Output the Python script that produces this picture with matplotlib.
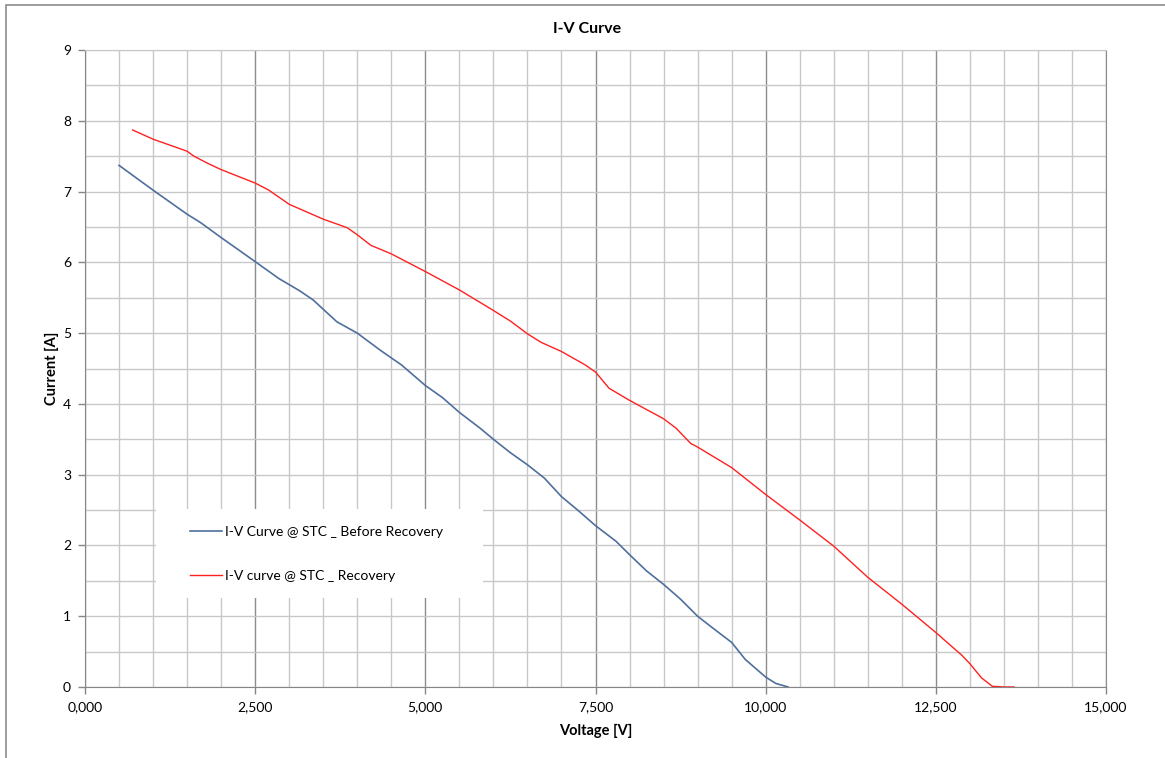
import matplotlib
matplotlib.use("Agg")
import matplotlib.pyplot as plt
from matplotlib.ticker import MultipleLocator, FuncFormatter
from matplotlib.patches import Rectangle

plt.rcParams['font.family'] = ['Lato', 'DejaVu Sans']

# I-V curve before recovery (voltage in V, current in A)
volt_before = [0.5, 1.0, 1.5, 1.7, 2.0, 2.5, 2.85, 3.15, 3.35, 3.7, 4.0, 4.35, 4.65, 5.0,
               5.25, 5.5, 5.8, 6.0, 6.25, 6.5, 6.75, 7.0, 7.25, 7.5, 7.8, 8.0, 8.25, 8.5,
               8.75, 9.0, 9.2, 9.5, 9.7, 10.0, 10.15, 10.33]
curr_before = [7.37, 7.02, 6.68, 6.56, 6.35, 6.01, 5.77, 5.6, 5.47, 5.16, 5.0, 4.75, 4.55, 4.26,
               4.09, 3.88, 3.66, 3.5, 3.31, 3.14, 2.95, 2.69, 2.49, 2.28, 2.06, 1.87, 1.64, 1.45,
               1.24, 1.0, 0.85, 0.63, 0.39, 0.14, 0.05, 0.0]

# I-V curve after recovery
volt_recov = [0.7, 1.0, 1.5, 1.6, 1.8, 2.0, 2.5, 2.7, 3.0, 3.5, 3.85, 4.0, 4.2, 4.5, 5.0, 5.5,
              6.0, 6.25, 6.5, 6.7, 7.0, 7.35, 7.5, 7.7, 8.0, 8.5, 8.68, 8.9, 9.0, 9.5, 10.0,
              10.5, 11.0, 11.5, 12.0, 12.5, 12.88, 13.0, 13.17, 13.33, 13.5, 13.65]
curr_recov = [7.87, 7.74, 7.57, 7.5, 7.4, 7.31, 7.12, 7.02, 6.82, 6.61, 6.49, 6.39, 6.24, 6.12,
              5.87, 5.61, 5.32, 5.17, 4.99, 4.87, 4.74, 4.55, 4.45, 4.22, 4.05, 3.79, 3.66, 3.44,
              3.39, 3.1, 2.72, 2.36, 1.99, 1.55, 1.17, 0.77, 0.45, 0.33, 0.13, 0.01, 0.0, 0.0]

labels = ['I-V Curve @ STC _ Before Recovery', 'I-V curve @ STC _ Recovery']

fig = plt.figure(figsize=(11.65, 7.58), dpi=100)
ax = fig.add_axes([85 / 1165, 1 - 687 / 758, 1021 / 1165, 637 / 758])

# outer chart border (only left/top visible in the original)
fig.patches.append(Rectangle((6 / 1165, -0.1), 2, 0.994 + 0.1, transform=fig.transFigure,
                             fill=False, edgecolor='#8c8c8c', lw=1.2, clip_on=False))

ax.plot(volt_before, curr_before, color='#4f6f9c', lw=1.2, label=labels[0], zorder=4)
ax.plot(volt_recov, curr_recov, color='#ff2020', lw=1.0, label=labels[1], zorder=4)

ax.set_xlim(0, 15)
ax.set_ylim(0, 9)
ax.xaxis.set_major_locator(MultipleLocator(2.5))
ax.xaxis.set_minor_locator(MultipleLocator(0.5))
ax.yaxis.set_major_locator(MultipleLocator(1))
ax.yaxis.set_minor_locator(MultipleLocator(0.5))
ax.xaxis.set_major_formatter(FuncFormatter(lambda v, p: f"{v:.3f}".replace('.', ',')))

ax.grid(which='major', axis='x', color='#8c8c8c', lw=1.0)
ax.grid(which='minor', axis='x', color='#c8c8c8', lw=1.0)
ax.grid(which='both', axis='y', color='#c8c8c8', lw=1.0)
ax.set_axisbelow(True)

for s in ['left', 'bottom']:
    ax.spines[s].set_color('#868686')
ax.spines['right'].set_color('#8c8c8c')
ax.spines['top'].set_color('#c8c8c8')

ax.tick_params(which='major', length=5, width=1, color='#868686', labelsize=10, pad=5)
ax.tick_params(which='minor', length=0)

ax.set_title('I-V Curve', fontweight='bold', fontsize=11.5, pad=12, x=0.492)
ax.set_xlabel('Voltage [V]', fontweight='bold', fontsize=10.5)
ax.set_ylabel('Current [A]', fontweight='bold', fontsize=10.5)
ax.xaxis.set_label_coords(0.5, -0.058)
ax.yaxis.set_label_coords(-0.025, 0.5)

# white legend background
ax.add_patch(Rectangle((71 / 1021, 89 / 637), 327 / 1021, 89 / 637, transform=ax.transAxes,
                       facecolor='white', edgecolor='none', zorder=2.5))
ax.legend(loc='upper left', bbox_to_anchor=(98 / 1021, 168 / 637), frameon=False,
          borderpad=0, handlelength=2.3, handletextpad=0.2, labelspacing=2.3, fontsize=10)

fig.savefig('out.png', dpi=100)
